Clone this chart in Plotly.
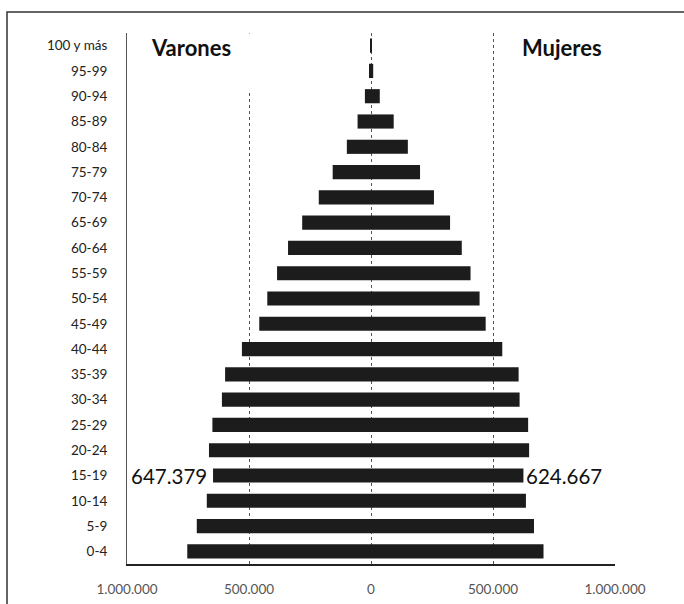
import plotly.graph_objects as go

ages = ["0-4", "5-9", "10-14", "15-19", "20-24", "25-29", "30-34", "35-39",
        "40-44", "45-49", "50-54", "55-59", "60-64", "65-69", "70-74", "75-79",
        "80-84", "85-89", "90-94", "95-99", "100 y más"]
varones = [753000, 714000, 673000, 647379, 664000, 650000, 611000, 598000,
           529000, 458000, 425000, 385000, 340000, 282000, 214000, 157000,
           99000, 55000, 25000, 5000, 1000]
mujeres = [707000, 668000, 635000, 624667, 648000, 644000, 609000, 605000,
           538000, 470000, 445000, 408000, 372000, 324000, 258000, 201000,
           151000, 93000, 36000, 9000, 2000]
tick_vals = [-1000000, -500000, 0, 500000, 1000000]
tick_text = ["1.000.000", "500.000", "0", "500.000", "1.000.000"]
label_group = "15-19"

FONT = "Lato"
BAR = "#1c1c1c"

W, H = 684, 604
ML, MR, MT, MB = 127, 69, 33, 40
PW, PH = W - ML - MR, H - MT - MB

fig = go.Figure()
fig.add_trace(go.Bar(y=ages, x=[-v for v in varones], orientation="h",
                     marker=dict(color=BAR, line=dict(width=0)), name="Varones"))
fig.add_trace(go.Bar(y=ages, x=mujeres, orientation="h",
                     marker=dict(color=BAR, line=dict(width=0)), name="Mujeres"))


def fmt(v):
    return f"{v:,}".replace(",", ".")


i = ages.index(label_group)
fig.add_annotation(x=-varones[i], y=label_group, text=fmt(varones[i]), showarrow=False,
                   xanchor="right", xshift=-4, font=dict(family=FONT, size=20.5, color="#111"))
fig.add_annotation(x=mujeres[i], y=label_group, text=fmt(mujeres[i]), showarrow=False,
                   xanchor="left", xshift=1, font=dict(family=FONT, size=20.5, color="#111"))

# series titles (white boxes hide the top of the gridlines, as in the reference)
fig.add_annotation(xref="paper", yref="paper", x=(150 - ML) / PW, y=1.0, xanchor="left", yanchor="top",
                   text="<b>Varones</b>", showarrow=False, bgcolor="white", width=110, height=58,
                   align="left", valign="top", borderpad=0,
                   font=dict(family=FONT, size=22, color="#111"))
fig.add_annotation(xref="paper", yref="paper", x=(521 - ML) / PW, y=1.0, xanchor="left", yanchor="top",
                   text="<b>Mujeres</b>", showarrow=False, bgcolor="white", width=104, height=58,
                   align="left", valign="top", borderpad=0,
                   font=dict(family=FONT, size=22, color="#111"))

# outer frame
fig.add_shape(type="rect", xref="paper", yref="paper",
              x0=(7 - ML) / PW, x1=(720 - ML) / PW, y0=-0.2, y1=1 + (MT - 12) / PH,
              line=dict(color="#333", width=1.5))

fig.update_layout(
    width=W, height=H,
    margin=dict(l=ML, r=MR, t=MT, b=MB, autoexpand=False),
    paper_bgcolor="white", plot_bgcolor="white",
    barmode="overlay", bargap=0.44, showlegend=False,
    xaxis=dict(range=[-1000000, 1000000], tickvals=tick_vals, ticktext=tick_text,
               showgrid=True, gridcolor="#555", griddash="dot", gridwidth=1,
               zeroline=False, showline=True, linecolor="#222", linewidth=1.5,
               ticks="", ticklabelstandoff=12, automargin=False,
               tickfont=dict(family=FONT, size=13.5, color="#555")),
    yaxis=dict(showgrid=False, zeroline=False, showline=True, linecolor="#555",
               linewidth=1, ticks="", ticklabelstandoff=16, automargin=False,
               tickfont=dict(family=FONT, size=13.5, color="#222")),
)

fig.write_html("out.html", config={"displayModeBar": False},
               post_script="document.body.style.margin='0px';")
